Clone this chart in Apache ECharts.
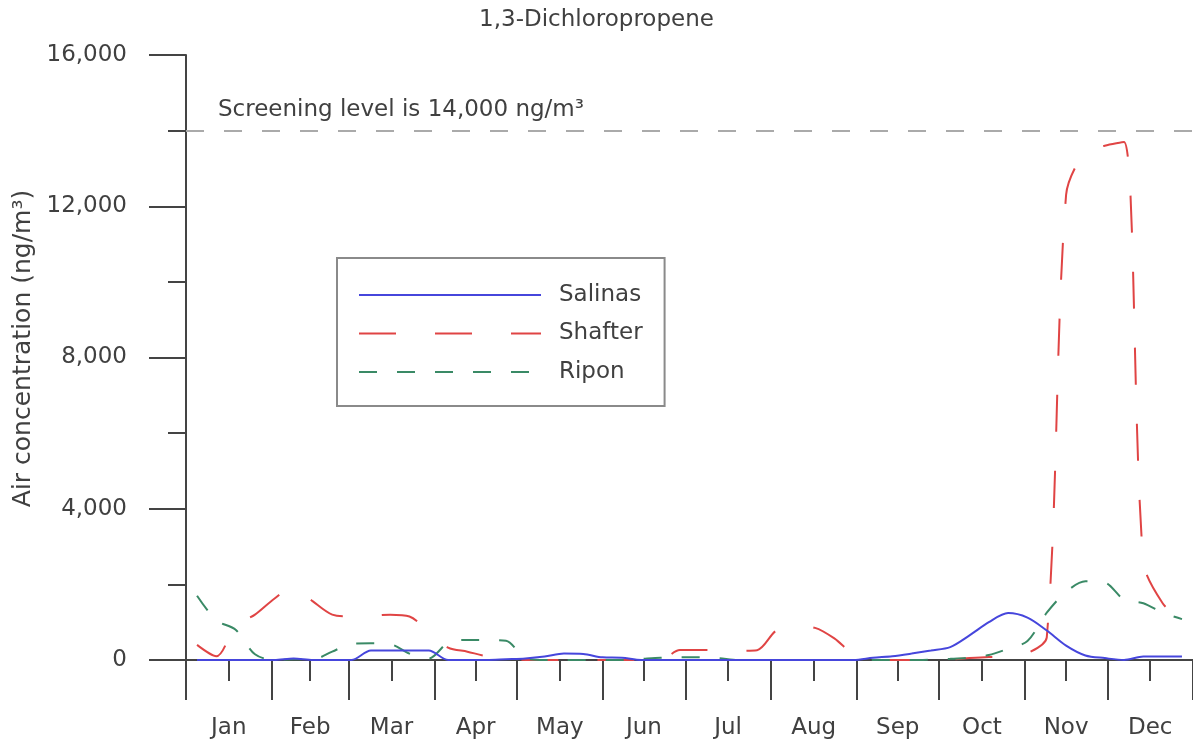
<!DOCTYPE html>
<html>
<head>
<meta charset="utf-8">
<script src="https://cdn.jsdelivr.net/npm/echarts@6/dist/echarts.min.js"></script>
<style>
  html, body { margin: 0; padding: 0; background: #fff; }
  #chart { width: 1193px; height: 742px; }
</style>
</head>
<body>
<div id="chart"></div>
<script>
// Month names and day-of-year positions for the x axis
const months = ['Jan', 'Feb', 'Mar', 'Apr', 'May', 'Jun', 'Jul', 'Aug', 'Sep', 'Oct', 'Nov', 'Dec'];
const monthStarts = [0, 31, 59, 90, 120, 151, 181, 212, 243, 273, 304, 334, 365];
const monthMids = [15.5, 45, 74.5, 105, 135.5, 166, 196.5, 227.5, 258, 288.5, 319, 349.5];

// Weekly sampling days (day of year)
const sampleDays = [4, 11, 18, 25, 32, 39, 46, 53, 60, 67, 74, 81, 88, 95, 102, 109, 116, 123, 130, 137,
  144, 151, 158, 165, 172, 179, 186, 193, 200, 207, 214, 221, 228, 235, 242, 249, 256, 263, 270, 277,
  284, 291, 298, 305, 312, 319, 326, 333, 340, 347, 354, 361];

// Air concentrations, ng/m3
const salinas = [0, 0, 0, 0, 0, 40, 0, 0, 0, 250, 250, 250, 250, 0, 0, 0, 20, 40, 90, 170,
  160, 70, 60, 0, 0, 0, 0, 0, 0, 0, 0, 0, 0, 0, 0, 60, 100, 170, 250, 340,
  650, 1000, 1240, 1120, 780, 380, 120, 50, 0, 90, 90, 90];
const shafter = [400, 100, 900, 1200, 1620, 1950, 1550, 1200, 1150, 1170, 1200, 1150, 750, 330, 220, 100, 50, 0, 0, 0,
  0, 0, 0, 0, 0, 264, 264, 255, 246, 260, 780, 890, 850, 570, 150, 0, 0, 0, 0, 10,
  50, 80, 90, 180, 600, 12300, 13450, 13600, 13700, 2600, 1500, 1050];
const ripon = [1700, 1050, 800, 150, 0, 20, 20, 220, 430, 440, 420, 170, 40, 460, 530, 530, 510, 50, 0, 0,
  0, 0, 0, 30, 60, 70, 70, 50, 0, 0, 0, 0, 0, 0, 0, 0, 0, 0, 10, 30,
  60, 130, 300, 500, 1250, 1800, 2080, 2050, 1600, 1500, 1250, 1080];

const screeningLevel = 14000;

const FONT = 'DejaVu Sans';
const TEXT = '#404040';
const AXIS = '#444444';

function pairs(values) {
  return sampleDays.map((d, i) => [d, values[i]]);
}

const chart = echarts.init(document.getElementById('chart'));

chart.setOption({
  animation: false,
  backgroundColor: '#ffffff',
  textStyle: { fontFamily: FONT },
  title: {
    text: '1,3-Dichloropropene',
    left: 'center',
    top: 4,
    textStyle: { fontFamily: FONT, fontSize: 23, fontWeight: 'normal', color: TEXT }
  },
  legend: {
    orient: 'vertical',
    left: 337,
    top: 258,
    padding: [25, 22, 22, 21],
    itemWidth: 182,
    itemHeight: 24,
    itemGap: 14.5,
    borderColor: '#8a8a8a',
    borderWidth: 2,
    itemStyle: { opacity: 0 },
    textStyle: { fontFamily: FONT, fontSize: 23, color: TEXT, lineHeight: 24, padding: [0, 0, 0, 13] },
    data: ['Salinas', 'Shafter', 'Ripon']
  },
  grid: { left: 186, right: -5, top: 55, bottom: 82 },
  xAxis: [
    {
      type: 'value',
      min: 0,
      max: 365,
      axisLine: { show: true, onZero: false, lineStyle: { color: AXIS, width: 2 } },
      axisTick: { show: true, customValues: monthStarts, length: 40, lineStyle: { color: AXIS, width: 2 } },
      axisLabel: { show: false },
      splitLine: { show: false }
    },
    {
      type: 'value',
      min: 0,
      max: 365,
      position: 'bottom',
      axisLine: { show: false },
      axisTick: { show: true, customValues: monthMids, length: 21, lineStyle: { color: AXIS, width: 2 } },
      axisLabel: {
        show: true,
        customValues: monthMids,
        margin: 57,
        fontFamily: FONT,
        fontSize: 23,
        color: TEXT,
        formatter: (v) => months[monthMids.indexOf(v)]
      },
      splitLine: { show: false }
    }
  ],
  yAxis: {
    type: 'value',
    min: 0,
    max: 16000,
    interval: 4000,
    name: 'Air concentration (ng/m³)',
    nameLocation: 'middle',
    nameGap: 150,
    nameTextStyle: { fontFamily: FONT, fontSize: 25, color: TEXT, padding: [0, 0, 0, 18] },
    axisLine: { show: true, lineStyle: { color: AXIS, width: 2 } },
    axisTick: { show: true, length: 37, lineStyle: { color: AXIS, width: 2 } },
    minorTick: { show: true, splitNumber: 2, length: 18, lineStyle: { color: AXIS, width: 2 } },
    axisLabel: { margin: 59, fontFamily: FONT, fontSize: 23, color: TEXT },
    splitLine: { show: false }
  },
  series: [
    {
      name: 'Salinas',
      type: 'line',
      xAxisIndex: 0,
      data: pairs(salinas),
      symbol: 'none',
      smooth: 0.3,
      itemStyle: { color: '#4646dc' },
      lineStyle: { color: '#4646dc', width: 2, type: 'solid' },
      markLine: {
        silent: true,
        symbol: 'none',
        data: [{ yAxis: screeningLevel }],
        lineStyle: { color: '#aaaaaa', width: 2, type: [18, 20] },
        label: {
          show: true,
          position: 'insideStartTop',
          distance: [32, 9],
          fontFamily: FONT,
          fontSize: 23,
          color: TEXT,
          formatter: 'Screening level is 14,000 ng/m³'
        }
      },
      z: 4
    },
    {
      name: 'Shafter',
      type: 'line',
      xAxisIndex: 0,
      data: pairs(shafter),
      symbol: 'none',
      smooth: 0.3,
      itemStyle: { color: '#e04444' },
      lineStyle: { color: '#e04444', width: 2, type: [37, 39] },
      z: 3
    },
    {
      name: 'Ripon',
      type: 'line',
      xAxisIndex: 0,
      data: pairs(ripon),
      symbol: 'none',
      smooth: 0.3,
      itemStyle: { color: '#3a8a66' },
      lineStyle: { color: '#3a8a66', width: 2, type: [18, 20] },
      z: 3
    }
  ]
});
</script>
</body>
</html>
